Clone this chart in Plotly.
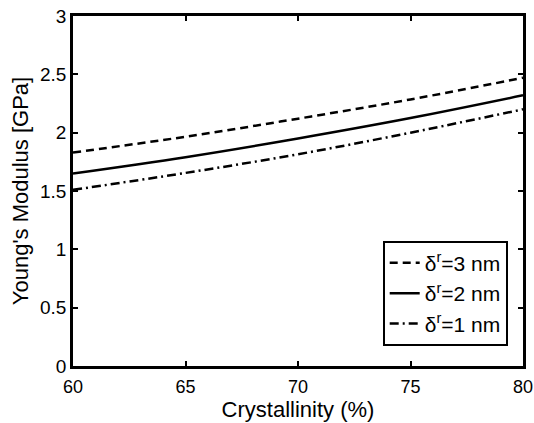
import plotly.graph_objects as go

crystallinity = [60, 65, 70, 75, 80]
modulus_3nm = [1.83, 1.965, 2.12, 2.285, 2.47]
modulus_2nm = [1.65, 1.79, 1.95, 2.125, 2.32]
modulus_1nm = [1.51, 1.655, 1.815, 2.00, 2.20]
labels = ["δ<sup>r</sup>=3 nm", "δ<sup>r</sup>=2 nm", "δ<sup>r</sup>=1 nm"]
x_ticks = [60, 65, 70, 75, 80]
x_ticktext = ["60", "65", "70", "75", "80"]
y_ticks = [0, 0.5, 1, 1.5, 2, 2.5, 3]
y_ticktext = ["0", "0.5", "1", "1.5", "2", "2.5", "3"]

fig = go.Figure()
styles = ["8px,5px", "solid", "9px,4px,2px,4px"]
for ys, name, dash in zip([modulus_3nm, modulus_2nm, modulus_1nm], labels, styles):
    fig.add_trace(go.Scatter(x=crystallinity, y=ys, mode="lines", name=name,
                             line=dict(color="black", width=2.5, dash=dash, shape="spline")))

axis_common = dict(showline=True, linecolor="black", linewidth=2.5, mirror="ticks",
                   ticks="inside", ticklen=5, tickwidth=2, tickcolor="black",
                   showgrid=False, zeroline=False, automargin=False,
                   ticklabeloverflow="allow")

fig.update_layout(
    width=534, height=423,
    margin=dict(l=73, r=11, t=16, b=57),
    plot_bgcolor="white", paper_bgcolor="white",
    font=dict(family="Liberation Sans", size=19, color="black"),
    xaxis=dict(range=[60, 80], tickvals=x_ticks, ticktext=x_ticktext, ticklabelstandoff=3,
               tickfont=dict(family="Liberation Sans", size=18, color="black"),
               title=dict(text="Crystallinity (%)", font=dict(size=22), standoff=6), **axis_common),
    yaxis=dict(range=[0, 3], tickvals=y_ticks, ticktext=y_ticktext, ticklabelstandoff=0,
               tickfont=dict(family="Liberation Sans", size=19, color="black"),
               title=dict(text="Young's Modulus [GPa]", font=dict(size=22), standoff=6), **axis_common),
    legend=dict(x=0.966, xanchor="right", y=0.058, yanchor="bottom",
                bgcolor="white", bordercolor="black", borderwidth=2,
                font=dict(size=21), tracegroupgap=0),
    showlegend=True,
)

fig.write_html("out.html", config={"displayModeBar": False},
               post_script="document.body.style.margin='0';")
